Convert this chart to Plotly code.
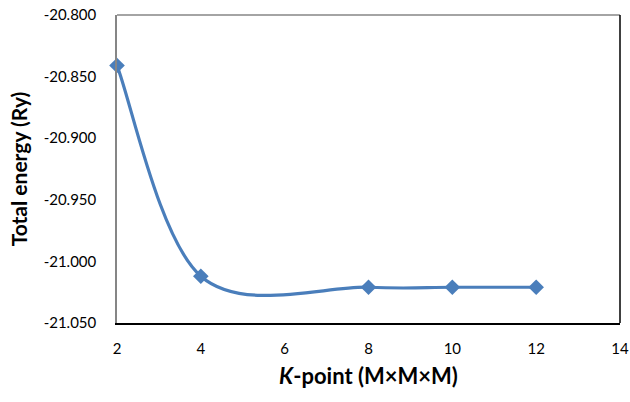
import plotly.graph_objects as go

# K-point mesh size (M for an M×M×M grid) and the converged total energy
k_points = [2, 4, 8, 10, 12]
total_energy = [-20.841, -21.012, -21.021, -21.021, -21.021]

x_ticks = [2, 4, 6, 8, 10, 12, 14]
y_ticks = [-20.800, -20.850, -20.900, -20.950, -21.000, -21.050]

FONT = "Lato, 'Open Sans', sans-serif"
BLUE = "#4A7EBB"


def smooth_path(xs, ys):
    """Cardinal (Catmull-Rom) Bezier path through the points, spreadsheet-style smoothing."""
    pts = list(zip(xs, ys))
    n = len(pts)
    d = f"M {pts[0][0]},{pts[0][1]}"
    for i in range(n - 1):
        pp = pts[max(i - 1, 0)]
        p0 = pts[i]
        p1 = pts[i + 1]
        pn = pts[min(i + 2, n - 1)]
        c1 = (p0[0] + (p1[0] - pp[0]) / 6, p0[1] + (p1[1] - pp[1]) / 6)
        c2 = (p1[0] - (pn[0] - p0[0]) / 6, p1[1] - (pn[1] - p0[1]) / 6)
        d += f" C {c1[0]},{c1[1]} {c2[0]},{c2[1]} {p1[0]},{p1[1]}"
    return d


fig = go.Figure()
fig.add_trace(go.Scatter(
    x=k_points,
    y=total_energy,
    mode="markers",
    marker=dict(symbol="diamond", size=12, color=BLUE),
    showlegend=False,
    cliponaxis=False,
))

fig.update_layout(
    width=630,
    height=402,
    margin=dict(l=117, r=10, t=15, b=79),
    paper_bgcolor="white",
    plot_bgcolor="white",
    font=dict(family=FONT, size=15, color="black"),
    xaxis=dict(
        range=[2, 14],
        tickvals=x_ticks,
        ticktext=[str(v) for v in x_ticks],
        showgrid=False,
        zeroline=False,
        showline=True,
        linecolor="black",
        linewidth=1.5,
        ticks="",
        ticklabelstandoff=11,
        automargin=False,
        title=dict(
            text="<b><i>K</i>-point (M×M×M)</b>",
            font=dict(family=FONT, size=22),
            standoff=13,
        ),
    ),
    yaxis=dict(
        range=[-21.05, -20.80],
        tickvals=y_ticks,
        ticktext=[f"{v:.3f}" for v in y_ticks],
        showgrid=False,
        zeroline=False,
        showline=True,
        linecolor="#868686",
        linewidth=1.5,
        ticks="",
        ticklabelstandoff=16,
        automargin=False,
        title=dict(
            text="<b>Total energy (Ry)</b>",
            font=dict(family=FONT, size=21),
            standoff=10,
        ),
    ),
    shapes=[
        # smoothed curve through the data points
        dict(type="path", xref="x", yref="y", layer="below",
             path=smooth_path(k_points, total_energy),
             line=dict(color=BLUE, width=3.2)),
        # top edge of the plot frame
        dict(type="line", xref="paper", yref="paper", x0=0, x1=1, y0=1, y1=1,
             line=dict(color="#868686", width=1.5)),
        # right edge of the plot frame
        dict(type="line", xref="paper", yref="paper", x0=1, x1=1, y0=0, y1=1,
             line=dict(color="black", width=1.5)),
    ],
)

fig.write_html("out.html")
